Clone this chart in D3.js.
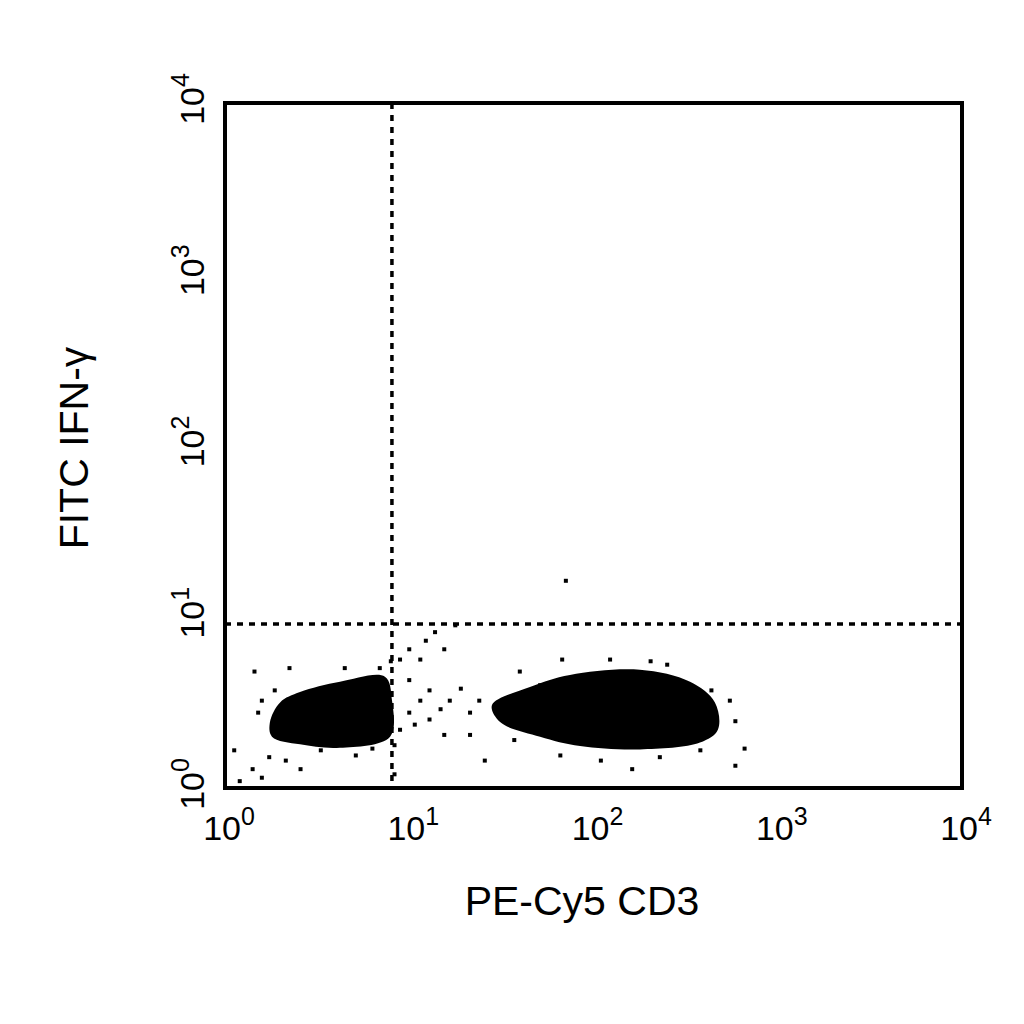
<!DOCTYPE html>
<html><head><meta charset="utf-8">
<script src="https://cdn.jsdelivr.net/npm/d3@7"></script>
<style>body{margin:0;background:#fff}text{font-family:"Liberation Sans",Arial,sans-serif}</style>
</head><body><svg id="c" width="1024" height="1024"></svg>
<script>
// values are log10 exponents
const ticks = [0, 1, 2, 3, 4];
const gateX = 0.906, gateY = 0.958;
const clusterLow = [[0.244,0.385],[0.299,0.50],[0.407,0.56],[0.624,0.62],[0.868,0.65],[0.906,0.514],[0.896,0.30],[0.624,0.235],[0.407,0.255],[0.255,0.30]];
const clusterHigh = [[1.449,0.485],[1.655,0.59],[1.872,0.66],[2.252,0.69],[2.524,0.62],[2.659,0.50],[2.675,0.340],[2.578,0.265],[2.252,0.225],[1.927,0.245],[1.710,0.30],[1.493,0.385]];
const dots = [[0.05,0.22],[0.08,0.04],[0.15,0.11],[0.2,0.06],[0.24,0.18],[0.27,0.57],[0.16,0.68],[0.35,0.70],[0.2,0.51],[0.18,0.44],[0.33,0.16],[0.41,0.11],[0.52,0.22],[0.71,0.19],[0.8,0.23],[0.65,0.7],[0.84,0.70],[0.9,0.74],[0.95,0.75],[1.0,0.81],[1.06,0.75],[1.09,0.86],[1.14,0.91],[1.19,0.81],[1.25,0.95],[1.0,0.63],[1.06,0.51],[1.11,0.57],[1.17,0.46],[1.22,0.51],[1.28,0.58],[1.33,0.44],[1.38,0.51],[0.95,0.34],[1.03,0.37],[1.11,0.4],[1.19,0.31],[1.33,0.31],[1.41,0.16],[1.0,0.44],[0.92,0.25],[0.92,0.08],
  [1.85,1.21],[1.83,0.75],[1.6,0.68],[2.09,0.75],[2.31,0.74],[2.4,0.72],[2.64,0.57],[2.74,0.51],[2.77,0.39],[2.82,0.23],[2.77,0.13],[2.58,0.22],[2.36,0.18],[2.21,0.11],[2.04,0.16],[1.82,0.19],[1.57,0.28],[1.52,0.51],[1.71,0.6]];

const svg = d3.select("#c");
const x = d3.scaleLog().domain([1, 1e4]).range([225, 962]);
const y = d3.scaleLog().domain([1, 1e4]).range([788, 103]);
const px = d => x(10 ** d[0]), py = d => y(10 ** d[1]);

// clusters
const line = d3.line().x(px).y(py).curve(d3.curveCatmullRomClosed);
[clusterLow, clusterHigh].forEach(c => svg.append("path").attr("d", line(c)).attr("fill", "#000"));
svg.selectAll(".dot").data(dots).join("rect")
  .attr("x", d => px(d) - 2).attr("y", d => py(d) - 2)
  .attr("width", 4).attr("height", 4).attr("fill", "#000");

// gates
svg.append("line").attr("x1", x(10 ** gateX)).attr("x2", x(10 ** gateX)).attr("y1", 103).attr("y2", 788)
  .attr("stroke", "#000").attr("stroke-width", 3.5).attr("stroke-dasharray", "6,6");
svg.append("line").attr("x1", 225).attr("x2", 962).attr("y1", y(10 ** gateY)).attr("y2", y(10 ** gateY))
  .attr("stroke", "#000").attr("stroke-width", 3.5).attr("stroke-dasharray", "6,6");

// frame
svg.append("rect").attr("x", 225).attr("y", 103).attr("width", 737).attr("height", 685)
  .attr("fill", "none").attr("stroke", "#000").attr("stroke-width", 4);

// tick labels
ticks.forEach(t => {
  const tx = svg.append("text").attr("x", x(10 ** t) + 4).attr("y", 840).attr("text-anchor", "middle").attr("font-size", 34);
  tx.append("tspan").text("10");
  tx.append("tspan").attr("dy", -15).attr("font-size", 25).text(t);
  const ty = svg.append("text").attr("transform", `translate(204,${y(10 ** t) - 4}) rotate(-90)`)
    .attr("text-anchor", "middle").attr("font-size", 34);
  ty.append("tspan").text("10");
  ty.append("tspan").attr("dy", -15).attr("font-size", 25).text(t);
});

svg.append("text").attr("x", 582).attr("y", 915).attr("text-anchor", "middle").attr("font-size", 41).text("PE-Cy5 CD3");
svg.append("text").attr("transform", "translate(88,448) rotate(-90)").attr("text-anchor", "middle")
  .attr("font-size", 41).text("FITC IFN-γ");
</script></body></html>
